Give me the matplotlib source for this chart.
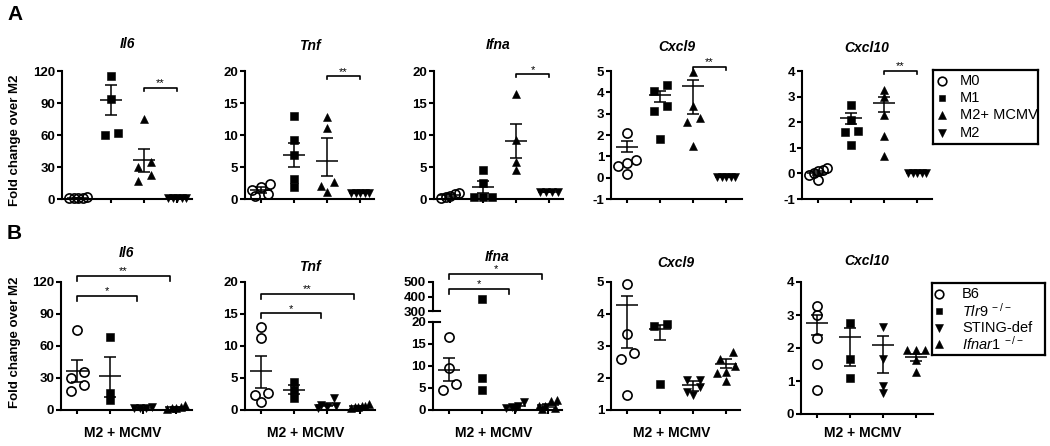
import matplotlib
matplotlib.use("Agg")
import matplotlib.pyplot as plt
import numpy as np

plt.rcParams['font.family'] = ['Liberation Sans', 'DejaVu Sans']
plt.rcParams['mathtext.fontset'] = 'custom'
plt.rcParams['mathtext.rm'] = 'Liberation Sans'
plt.rcParams['mathtext.it'] = 'Liberation Sans:italic'
plt.rcParams['mathtext.bf'] = 'Liberation Sans:bold'

# ------------------------------------------------------------------ data
genes = ['Il6', 'Tnf', 'Ifna', 'Cxcl9', 'Cxcl10']
groups_a = ['M0', 'M1', 'M2+ MCMV', 'M2']
groups_b = ['B6', r'$\mathit{Tlr9}^{\ -/-}$', 'STING-def', r'$\mathit{Ifnar1}^{\ -/-}$']
xlabel_b = 'M2 + MCMV'
ylabel = 'Fold change over M2'

# Panel A (M0, M1, M2+MCMV, M2)
a_il6_pts = [[1.5, 1.2, 1.0, 0.8, 0.5], [115, 94, 62, 60], [75, 35, 30, 22.5, 17], [1, 1, 1, 1, 1]]
a_il6_mean = [1.0, 92.8, 36.5, 1.0]
a_il6_lo = [0.8, 78.7, 25.3, 1.0]
a_il6_hi = [1.2, 106.8, 46.9, 1.0]

a_tnf_pts = [[2.3, 1.9, 1.4, 0.8, 0.5], [13.0, 9.2, 6.9, 3.1, 1.9], [12.8, 11.1, 2.7, 2.1, 1.1], [1, 1, 1, 1, 1]]
a_tnf_mean = [1.4, 6.9, 6.0, 1.0]
a_tnf_lo = [1.0, 5.0, 3.6, 1.0]
a_tnf_hi = [1.8, 8.8, 9.6, 1.0]

a_ifna_pts = [[1.0, 0.8, 0.5, 0.3, 0.1], [4.5, 2.5, 0.3, 0.3, 0.3], [16.4, 9.2, 5.8, 4.5], [1.1, 1.1, 1.1, 1.1]]
a_ifna_mean = [0.55, 1.82, 9.1, 1.1]
a_ifna_lo = [0.35, 0.9, 6.4, 1.1]
a_ifna_hi = [0.75, 2.86, 11.7, 1.1]

a_cxcl9_pts = [[2.1, 0.85, 0.7, 0.55, 0.15], [4.33, 4.07, 3.37, 3.14, 1.82], [4.95, 3.37, 2.8, 2.6, 1.48], [0.03, 0.03, 0.03, 0.03, 0.03]]
a_cxcl9_mean = [1.46, 3.88, 4.28, 0.03]
a_cxcl9_lo = [1.2, 3.53, 2.97, 0.03]
a_cxcl9_hi = [1.72, 4.08, 4.57, 0.03]

a_cxcl10_pts = [[0.2, 0.13, 0.1, 0.0, -0.05, -0.26], [2.67, 2.08, 1.67, 1.62, 1.09], [3.25, 2.97, 2.3, 1.46, 0.68], [0, 0, 0, 0, 0]]
a_cxcl10_mean = [0.03, 2.15, 2.76, 0.0]
a_cxcl10_lo = [-0.05, 1.93, 2.4, 0.0]
a_cxcl10_hi = [0.1, 2.34, 2.97, 0.0]

a_sig = ['**', '**', '*', '**', '**']
a_sig_y = [104, 19.2, 19.5, 5.2, 4.0]

# Panel B (B6, Tlr9-/-, STING-def, Ifnar1-/-)
b_il6_pts = [[75.3, 35.7, 30, 23, 17.7], [68, 16, 9.3], [2.5, 2.0, 1.8, 1.5], [5, 3, 2, 1.5, 1]]
b_il6_mean = [36.6, 31.6, 2.0, 2.5]
b_il6_lo = [26.4, 12.4, 1.7, 1.8]
b_il6_hi = [46.5, 50.0, 2.3, 3.2]

b_tnf_pts = [[12.9, 11.3, 2.7, 2.3, 1.2], [4.35, 3.2, 1.9], [1.8, 0.8, 0.7, 0.5, 0.3], [0.9, 0.7, 0.6, 0.5, 0.4, 0.3]]
b_tnf_mean = [6.05, 3.2, 0.8, 0.55]
b_tnf_lo = [3.5, 2.5, 0.55, 0.45]
b_tnf_hi = [8.5, 3.9, 1.05, 0.65]

b_ifna_pts = [[16.5, 9.5, 5.9, 4.6], [383, 7.2, 4.6], [1.9, 0.8, 0.6, 0.4, 0.3], [2.3, 2.0, 1.0, 0.8, 0.5, 0.2]]
b_ifna_mean = [9.1, np.nan, 0.8, 1.1]
b_ifna_lo = [6.5, np.nan, 0.5, 0.75]
b_ifna_hi = [11.8, np.nan, 1.1, 1.45]

b_cxcl9_pts = [[4.95, 3.37, 2.77, 2.6, 1.47], [3.7, 3.62, 1.8], [1.95, 1.95, 1.72, 1.55, 1.47], [2.81, 2.6, 2.36, 2.18, 2.15, 1.9]]
b_cxcl9_mean = [4.27, 3.52, 1.78, 2.45]
b_cxcl9_lo = [2.95, 3.2, 1.6, 2.3]
b_cxcl9_hi = [4.56, 3.67, 1.9, 2.6]

b_cxcl10_pts = [[3.27, 2.99, 2.29, 1.51, 0.73], [2.77, 1.68, 1.1], [2.64, 1.66, 0.86, 0.63], [1.93, 1.93, 1.93, 1.63, 1.28]]
b_cxcl10_mean = [2.77, 2.34, 2.08, 1.73]
b_cxcl10_lo = [2.4, 1.46, 1.23, 1.6]
b_cxcl10_hi = [2.99, 2.6, 2.35, 1.83]

# significance (label, group from, group to, height)
b_il6_sig = [('*', 0, 2, 107), ('**', 0, 3, 126)]
b_tnf_sig = [('*', 0, 2, 15.1), ('**', 0, 3, 18.2)]
b_ifna_sig = [('*', 0, 2, 452), ('*', 0, 3, 555)]

markers_a = ['o', 's', '^', 'v']
markers_b = ['o', 's', 'v', '^']

# ------------------------------------------------------------------ layout
W, H = 1050, 446
fig = plt.figure(figsize=(W / 100, H / 100), dpi=100)
STEP = 33.0
X0 = 16.0


def px_axes(l, t, r, b):
    return fig.add_axes([l / W, 1 - b / H, (r - l) / W, (b - t) / H])


def style_axes(ax, ylim, yticks, bottom=True):
    ax.set_ylim(*ylim)
    ax.set_yticks(yticks)
    ax.set_yticklabels([str(t) for t in yticks])
    wpx = ax.get_position().width * W
    left = -X0 / STEP
    ax.set_xlim(left, left + wpx / STEP)
    ax.set_xticks(range(4) if bottom else [])
    ax.set_xticklabels([])
    ax.spines['top'].set_visible(False)
    ax.spines['right'].set_visible(False)
    ax.spines['left'].set_linewidth(1.5)
    ax.spines['bottom'].set_linewidth(1.5)
    if not bottom:
        ax.spines['bottom'].set_visible(False)
    ax.tick_params(axis='both', direction='out', width=1.5, labelsize=9.5, pad=1.5)
    ax.tick_params(axis='y', length=3.5)
    ax.tick_params(axis='x', length=3)
    for lab in ax.get_yticklabels():
        lab.set_fontweight('bold')
    ax.patch.set_visible(False)


def swarm_offsets(ax, xc, vals, thresh=7.0, step=13.0, maxw=18.0):
    vals = np.asarray(vals, float)
    if len(vals) == 0:
        return vals
    ypx = ax.transData.transform(np.column_stack([np.full(len(vals), float(xc)), vals]))[:, 1]
    pxu = ax.transData.transform((1, 0))[0] - ax.transData.transform((0, 0))[0]
    order = np.argsort(-ypx, kind='stable')
    rows = []
    for i in order:
        if rows and abs(ypx[rows[-1][0]] - ypx[i]) < thresh:
            rows[-1].append(i)
        else:
            rows.append([i])
    offs = np.zeros(len(vals))
    for row in rows:
        n = len(row)
        if n == 1:
            continue
        sp = min(step, maxw / (n - 1))
        rs = sorted(row, key=lambda k: vals[k])
        for j, k in enumerate(rs):
            offs[k] = (j - (n - 1) / 2) * sp / pxu
    return offs


MS = {'o': 6.6, 's': 5.4, '^': 6.2, 'v': 6.2}


def draw_points(ax, xc, vals, marker, vmin=-np.inf, vmax=np.inf):
    vals = np.asarray(vals, float)
    vals = vals[(vals >= vmin) & (vals <= vmax)]
    if len(vals) == 0:
        return
    offs = swarm_offsets(ax, xc, vals)
    if marker == 'o':
        ax.plot(xc + offs, vals, ls='none', marker='o', ms=MS['o'], mfc='none',
                mec='black', mew=1.2, clip_on=False, zorder=3)
    else:
        ax.plot(xc + offs, vals, ls='none', marker=marker, ms=MS[marker], mfc='black',
                mec='black', mew=0.4, clip_on=False, zorder=3)


def draw_err(ax, xc, m, lo, hi):
    if np.isnan(m):
        return
    kw = dict(color='black', lw=1.1, clip_on=False, zorder=4, solid_capstyle='butt')
    ax.plot([xc - 0.34, xc + 0.34], [m, m], **kw)
    ax.plot([xc, xc], [lo, hi], **kw)
    ax.plot([xc - 0.17, xc + 0.17], [hi, hi], **kw)
    ax.plot([xc - 0.17, xc + 0.17], [lo, lo], **kw)


def per_px(ax):
    y0, y1 = ax.get_ylim()
    return (y1 - y0) / (ax.get_position().height * H)


def bracket(ax, x1, x2, y, text, leg_px):
    pp = per_px(ax)
    ax.plot([x1, x1, x2, x2], [y - leg_px * pp, y, y, y - leg_px * pp], color='black',
            lw=1.2, clip_on=False, zorder=5)
    ax.text((x1 + x2) / 2, y + 1.5 * pp, text, ha='center', va='baseline', fontsize=8)


def title(ax, text, ypx):
    pos = ax.get_position()
    fig.text(pos.x0 + pos.width / 2, 1 - ypx / H, text, ha='center', va='center',
             fontsize=10, fontweight='bold', fontstyle='italic')


# ------------------------------------------------------------------ panel A
a_boxes = [(62, 71, 192, 199), (245, 71, 374, 199), (434, 71, 563, 199),
           (611, 71, 742, 199), (802, 71, 932, 199)]
a_ylims = [(0, 120), (0, 20), (0, 20), (-1, 5), (-1, 4)]
a_yticks = [[0, 30, 60, 90, 120], [0, 5, 10, 15, 20], [0, 5, 10, 15, 20],
            [-1, 0, 1, 2, 3, 4, 5], [-1, 0, 1, 2, 3, 4]]
a_title_y = [44, 46, 45, 47, 48]
a_pts = [a_il6_pts, a_tnf_pts, a_ifna_pts, a_cxcl9_pts, a_cxcl10_pts]
a_mean = [a_il6_mean, a_tnf_mean, a_ifna_mean, a_cxcl9_mean, a_cxcl10_mean]
a_lo = [a_il6_lo, a_tnf_lo, a_ifna_lo, a_cxcl9_lo, a_cxcl10_lo]
a_hi = [a_il6_hi, a_tnf_hi, a_ifna_hi, a_cxcl9_hi, a_cxcl10_hi]

for k in range(5):
    ax = px_axes(*a_boxes[k])
    style_axes(ax, a_ylims[k], a_yticks[k])
    for g in range(4):
        draw_points(ax, g, a_pts[k][g], markers_a[g])
        draw_err(ax, g, a_mean[k][g], a_lo[k][g], a_hi[k][g])
    bracket(ax, 2, 3, a_sig_y[k], a_sig[k], 3)
    title(ax, genes[k], a_title_y[k])

# ------------------------------------------------------------------ panel B
b_boxes = [(61, 282, 192, 410), (245, 282, 375, 410), (433, 322, 562, 410),
           (611, 282, 740, 410), (801, 282, 933, 414)]
b_ylims = [(0, 120), (0, 20), (0, 20), (1, 5), (0, 4)]
b_yticks = [[0, 30, 60, 90, 120], [0, 5, 10, 15, 20], [0, 5, 10, 15, 20],
            [1, 2, 3, 4, 5], [0, 1, 2, 3, 4]]
b_title_y = [253, 267, 257, 263, 261]
b_pts = [b_il6_pts, b_tnf_pts, b_ifna_pts, b_cxcl9_pts, b_cxcl10_pts]
b_mean = [b_il6_mean, b_tnf_mean, b_ifna_mean, b_cxcl9_mean, b_cxcl10_mean]
b_lo = [b_il6_lo, b_tnf_lo, b_ifna_lo, b_cxcl9_lo, b_cxcl10_lo]
b_hi = [b_il6_hi, b_tnf_hi, b_ifna_hi, b_cxcl9_hi, b_cxcl10_hi]
b_sigs = [b_il6_sig, b_tnf_sig, None, None, None]

b_axes = []
for k in range(5):
    ax = px_axes(*b_boxes[k])
    style_axes(ax, b_ylims[k], b_yticks[k])
    lo_lim, hi_lim = b_ylims[k]
    for g in range(4):
        if k == 2:
            draw_points(ax, g, b_pts[k][g], markers_b[g], vmax=hi_lim)
        else:
            draw_points(ax, g, b_pts[k][g], markers_b[g])
        draw_err(ax, g, b_mean[k][g], b_lo[k][g], b_hi[k][g])
    if b_sigs[k]:
        for lab, g1, g2, y in b_sigs[k]:
            bracket(ax, g1, g2 - 0.18, y, lab, 5)
    b_axes.append(ax)

# broken upper part for Ifna
axu = px_axes(433, 282, 562, 311)
style_axes(axu, (300, 500), [300, 400, 500], bottom=False)
for g in range(4):
    draw_points(axu, g, b_pts[2][g], markers_b[g], vmin=300)
for lab, g1, g2, y in b_ifna_sig:
    bracket(axu, g1, g2 - 0.18, y, lab, 5)
# break marks
for a_, yv in ((axu, 0.0), (b_axes[2], 1.0)):
    a_.plot([0, 7.0 / (a_.get_position().width * W)], [yv, yv], transform=a_.transAxes,
            color='black', lw=1.5, clip_on=False)

for k in range(5):
    pos = b_axes[k].get_position()
    ttl_ax = axu if k == 2 else b_axes[k]
    title(ttl_ax, genes[k], b_title_y[k])
    fig.text(pos.x0 + pos.width / 2 - 4 / W, 1 - 433 / H, xlabel_b, ha='center', va='center',
             fontsize=10, fontweight='bold')

# ------------------------------------------------------------------ labels
fig.text(15 / W, 1 - 140 / H, ylabel, rotation=90, ha='center', va='center',
         fontsize=9.5, fontweight='bold')
fig.text(15 / W, 1 - 342 / H, ylabel, rotation=90, ha='center', va='center',
         fontsize=9.5, fontweight='bold')
fig.text(7 / W, 1 - 5 / H, 'A', ha='left', va='top', fontsize=15, fontweight='bold')
fig.text(7 / W, 1 - 224 / H, 'B', ha='left', va='top', fontsize=15, fontweight='bold')


# ------------------------------------------------------------------ legends
def legend_box(l, t, r, b, rows_y, markers, labels, mx, tx):
    lax = px_axes(l, t, r, b)
    lax.set_xlim(l, r)
    lax.set_ylim(b, t)
    lax.set_xticks([])
    lax.set_yticks([])
    for s in lax.spines.values():
        s.set_linewidth(1.6)
    for y, m, lab in zip(rows_y, markers, labels):
        if m == 'o':
            lax.plot([mx], [y], ls='none', marker='o', ms=6.2, mfc='none', mec='black', mew=1.2)
        else:
            lax.plot([mx], [y], ls='none', marker=m, ms=MS[m] - 0.4, mfc='black', mec='black', mew=0.4)
        lax.text(tx, y, lab, ha='left', va='center', fontsize=10.5)


legend_box(933, 70, 1038, 144, [80.7, 98.0, 115.3, 132.7], markers_a, groups_a, 942, 960)
legend_box(932, 283, 1045, 355, [294.0, 311.0, 327.7, 343.5], ['o', 's', 'v', '^'], groups_b, 939, 962)

fig.savefig('out.png', dpi=100)
